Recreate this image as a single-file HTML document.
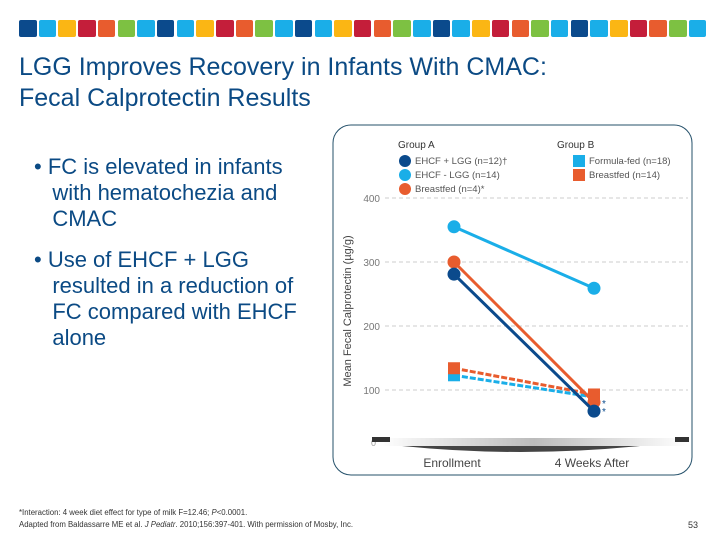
<!DOCTYPE html>
<html><head><meta charset="utf-8"><style>
body{margin:0;width:720px;height:540px;background:#fff;font-family:"Liberation Sans",sans-serif;position:relative;overflow:hidden}
.t{position:absolute;white-space:nowrap}
</style></head><body>
<div id="bar"></div>
<div class="t" style="left:19px;top:52px;font-size:25px;color:#0b4a84;line-height:31px">LGG Improves Recovery in Infants With CMAC:<br>Fecal Calprotectin Results</div>
<div class="t" style="left:34px;top:154px;font-size:22px;color:#0b4a84;line-height:26px">• FC is elevated in infants<br>&nbsp;&nbsp;&nbsp;with hematochezia and<br>&nbsp;&nbsp;&nbsp;CMAC</div>
<div class="t" style="left:34px;top:247px;font-size:22px;color:#0b4a84;line-height:26px">• Use of EHCF + LGG<br>&nbsp;&nbsp;&nbsp;resulted in a reduction of<br>&nbsp;&nbsp;&nbsp;FC compared with EHCF<br>&nbsp;&nbsp;&nbsp;alone</div>
<div class="t" style="left:19px;top:507px;font-size:7.8px;color:#333;line-height:12px">*Interaction: 4 week diet effect for type of milk F=12.46; <i>P</i>&lt;0.0001.<br>Adapted from Baldassarre ME et al. <i>J Pediatr</i>. 2010;156:397-401. With permission of Mosby, Inc.</div>
<div class="t" style="left:688px;top:520px;font-size:9px;color:#333">53</div>
<svg id="chart" width="720" height="540" style="position:absolute;left:0;top:0" xmlns="http://www.w3.org/2000/svg">
<defs><linearGradient id="g" x1="0" x2="1"><stop offset="0" stop-color="#fff"/><stop offset="0.5" stop-color="#bbb"/><stop offset="1" stop-color="#fff"/></linearGradient></defs>
<rect x="333" y="125" width="359" height="350" rx="18" fill="none" stroke="#24506a" stroke-width="1"/>
</svg>
<script>
const categories=["Enrollment","4 Weeks After"];
const yTicks=[100,200,300,400];
const ehcfLgg=[281,67];
const ehcfNoLgg=[355,259];
const breastA=[300,81];
const formulaB=[123,89];
const breastB=[134,93];
const NS="http://www.w3.org/2000/svg";
const svg=document.getElementById('chart');
function y(v){return 454-v*0.64;}
function x(i){return 454+i*140;}
function el(t,a){const e=document.createElementNS(NS,t);for(const k in a)e.setAttribute(k,a[k]);svg.appendChild(e);return e;}
yTicks.forEach(v=>{
 const l=el('line',{x1:385,x2:688,y1:y(v),y2:y(v),stroke:'#ccc','stroke-dasharray':'4,3'});
 
 
 const t=el('text',{x:380,y:y(v)+4,'font-size':10,fill:'#777','text-anchor':'end'});t.textContent=v;
 
 
});
const zt=el('text',{x:376,y:446,'font-size':9,fill:'#999','text-anchor':'end'});zt.textContent='0';


const base=el('rect',{x:380,y:438,width:308,height:8,fill:'url(#g)'});


el('path',{d:'M402,446 Q520,458 640,446 Z',fill:'#444'});
el('rect',{x:372,y:437,width:18,height:5,fill:'#333'});
el('rect',{x:675,y:437,width:14,height:5,fill:'#333'});
categories.forEach((c,i)=>{
 const t=el('text',{x:x(i)-2,y:467,'font-size':12,fill:'#444','text-anchor':'middle'});t.textContent=c;
 
 
});
const yt=el('text',{x:0,y:0,'font-size':11,fill:'#444','text-anchor':'middle',transform:'translate(351,311) rotate(-90)'});yt.textContent='Mean Fecal Calprotectin (µg/g)';


const series=[
 {n:'formula-fed',d:formulaB,c:'#1aaee8',sq:1,dash:'6,2'},
 {n:'breastfed-b',d:breastB,c:'#e85c2e',sq:1,dash:'6,2'},
 {n:'ehcf-no-lgg',d:ehcfNoLgg,c:'#1aaee8'},
 {n:'breastfed-a',d:breastA,c:'#e85c2e'},
 {n:'ehcf-lgg',d:ehcfLgg,c:'#0b4a8c'}];
series.forEach(s=>{
 const l=el('line',{x1:x(0),y1:y(s.d[0]),x2:x(1),y2:y(s.d[1]),stroke:s.c,'stroke-width':3});
 if(s.dash)l.setAttribute('stroke-dasharray',s.dash);
 
 
 s.d.forEach((v,i)=>{
  const m=s.sq?el('rect',{x:x(i)-6,y:y(v)-6,width:12,height:12,fill:s.c}):el('circle',{cx:x(i),cy:y(v),r:6.5,fill:s.c});
  
  
 });
});
[['*',y(ehcfLgg[1])-8],['*',y(ehcfLgg[1])]].forEach((a,i)=>{const t=el('text',{x:602,y:a[1]+4,'font-size':10,fill:'#0b4a8c'});t.textContent=a[0];
 
 });
const leg=[[421,148,'Group A','title'],[580,148,'Group B','title']];
leg.forEach(l=>{const t=el('text',{x:l[0]-23,y:l[1],'font-size':10,fill:'#333'});t.textContent=l[2];
 
 });
const items=[[405,161,'#0b4a8c',0,'EHCF + LGG (n=12)†'],[405,175,'#1aaee8',0,'EHCF - LGG (n=14)'],[405,189,'#e85c2e',0,'Breastfed (n=4)*'],[579,161,'#1aaee8',1,'Formula-fed (n=18)'],[579,175,'#e85c2e',1,'Breastfed (n=14)']];
items.forEach((it,i)=>{
 const m=it[3]?el('rect',{x:it[0]-6,y:it[1]-6,width:12,height:12,fill:it[2]}):el('circle',{cx:it[0],cy:it[1],r:6,fill:it[2]});
 
 
 const t=el('text',{x:it[0]+10,y:it[1]+3,'font-size':9.5,fill:'#555'});t.textContent=it[4];
 
 
});
const cols=['#0b4a8c','#1aaee8','#fbb614','#c41e3a','#e85c2e','#7dc142','#1aaee8'];
const bar=document.getElementById('bar');
for(let i=0;i<35;i++){const d=document.createElement('div');
 
 
 d.style.cssText=`position:absolute;left:${19+i*19.7}px;top:20px;width:17.5px;height:17px;border-radius:2px;background:${cols[i%7]}`;
 bar.appendChild(d);}
</script>
</body></html>
